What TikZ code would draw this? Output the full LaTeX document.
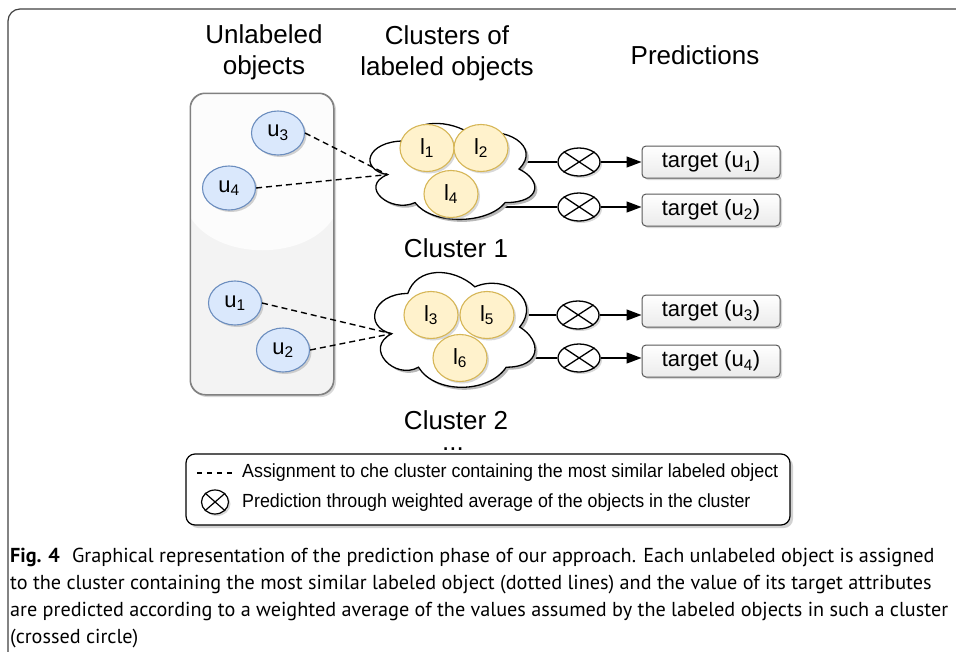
\documentclass[tikz,border=0pt]{standalone}
\usepackage{fontspec}
\setmainfont{Liberation Sans}
\newfontfamily\capfont{PT Sans}
\usetikzlibrary{shapes.geometric,shadows,arrows.meta}
\definecolor{ublue}{HTML}{DAE8FC}
\definecolor{ubord}{HTML}{6C8EBF}
\definecolor{lyel}{HTML}{FFF2CC}
\definecolor{lbord}{HTML}{D6B656}
\definecolor{boxgray}{HTML}{F3F3F3}
\definecolor{boxhi}{HTML}{FCFCFC}
\newcommand{\sbs}[1]{\textsubscript{#1}}
\newcommand{\cloudpath}{(0.25,0.25) .. controls (0.05,0.25) and (0,0.5) .. (0.16,0.55) .. controls (0,0.66) and (0.18,0.9) .. (0.31,0.8) .. controls (0.4,1) and (0.7,1) .. (0.8,0.8) .. controls (1,0.8) and (1,0.6) .. (0.875,0.5) .. controls (1,0.3) and (0.8,0.1) .. (0.625,0.2) .. controls (0.5,0.05) and (0.3,0.05) .. (0.25,0.25) -- cycle}
\newcommand{\drawiocloud}[5]{%
  \begin{scope}[shift={(#1+2.5,#2+2.5)}, x=#3pt, y=-#4pt]
    \fill[black!28] \cloudpath;
  \end{scope}
  \begin{scope}[shift={(#1,#2)}, x=#3pt, y=-#4pt]
    \draw[line width=1.3pt, fill=white] \cloudpath;
    \coordinate (#5in) at (0.16,0.55);
  \end{scope}}
\tikzset{
  uobj/.style={ellipse, draw=ubord, fill=ublue, line width=1.1pt, minimum width=53pt, minimum height=44pt, inner sep=0pt, font=\fontsize{22}{22}\selectfont, drop shadow={shadow xshift=2pt, shadow yshift=-2pt, fill=black!35}},
  lobj/.style={ellipse, draw=lbord, fill=lyel, line width=1.1pt, minimum width=54pt, minimum height=47pt, inner sep=0pt, font=\fontsize{22}{22}\selectfont, drop shadow={shadow xshift=2pt, shadow yshift=-2pt, fill=black!30}},
  xcirc/.style={ellipse, draw, line width=1.3pt, fill=white, minimum width=42pt, minimum height=28pt, inner sep=0pt, drop shadow={shadow xshift=2pt, shadow yshift=-2pt, fill=black!30},
     append after command={[every path/.style={}] (\tikzlastnode.33.7) edge[line width=1.3pt] (\tikzlastnode.213.7) (\tikzlastnode.146.3) edge[line width=1.3pt] (\tikzlastnode.-33.7)}},
  target/.style={rectangle, rounded corners=4pt, draw=black!65, line width=1pt, top color=white, bottom color=black!8, minimum width=138pt, minimum height=32pt, inner sep=0pt, font=\fontsize{22}{22}\selectfont, drop shadow={shadow xshift=2pt, shadow yshift=-2pt, fill=black!30}},
  title/.style={font=\fontsize{26}{31}\selectfont, align=center},
  clabel/.style={font=\fontsize{26}{26}\selectfont, inner sep=0pt},
  dline/.style={dashed, dash pattern=on 6pt off 4pt, line width=1.4pt},
  sline/.style={line width=1.3pt},
  arr/.style={line width=1.3pt, -{Triangle[length=15pt, width=11pt]}},
}
\begin{document}
\begin{tikzpicture}[x=1pt, y=-1pt]
\useasboundingbox (0,0) rectangle (956,651);
% outer frame
\draw[line width=1.2pt, black!75, rounded corners=12pt] (8,660) -- (8,9) -- (970,9);
% titles
\node[title] (t1) at (264,52) {Unlabeled\\objects};
\node[title] (t2) at (447,53) {Clusters of\\labeled objects};
\node[title] (t3) at (695,55) {Predictions};
% unlabeled container
\node[draw=black!50, line width=1pt, rounded corners=15pt, fill=boxgray, minimum width=144pt, minimum height=302pt, drop shadow={shadow xshift=2pt, shadow yshift=-2pt, fill=black!30}] (ubox) at (262,244) {};
\begin{scope}
  \clip[rounded corners=15pt] (190.5,93.5) rectangle (333.5,394.5);
  \fill[boxhi] (189,92) -- (189,215) .. controls (215,262) and (310,262) .. (335,215) -- (335,92) -- cycle;
\end{scope}
\draw[black!50, line width=1pt, rounded corners=15pt] (190.5,93.5) rectangle (333.5,394.5);
% crossed circles
\node[xcirc] (x1) at (579,162) {};
\node[xcirc] (x2) at (579,207) {};
\node[xcirc] (x3) at (578,315) {};
\node[xcirc] (x4) at (579,358) {};
% cluster centres and connectors (behind clouds)
\coordinate (c1) at (450,170);
\coordinate (c2) at (455,330);
\draw[sline] (c1 |- x1) -- (x1.west);
\draw[sline] (c1 |- x2) -- (x2.west);
\draw[sline] (c2 |- x3) -- (x3.west);
\draw[sline] (c2 |- x4) -- (x4.west);
% clouds
\drawiocloud{358}{113}{184}{112}{c1}
\drawiocloud{363}{260}{179}{134}{c2}
% labeled objects
\node[lobj] (l1) at (427,148) {l\sbs{1}};
\node[lobj] (l2) at (481,148) {l\sbs{2}};
\node[lobj] (l4) at (451,194) {l\sbs{4}};
\node[lobj] (l3) at (431,315) {l\sbs{3}};
\node[lobj] (l5) at (487,315) {l\sbs{5}};
\node[lobj] (l6) at (460,358) {l\sbs{6}};
% unlabeled objects
\node[uobj] (u3) at (278,133) {u\sbs{3}};
\node[uobj] (u4) at (229,188) {u\sbs{4}};
\node[uobj] (u1) at (235,303) {u\sbs{1}};
\node[uobj] (u2) at (283,350) {u\sbs{2}};
% assignments
\draw[dline] (u3.east) -- (c1in);
\draw[dline] (u4.east) -- (c1in);
\draw[dline] (u1.east) -- (c2in);
\draw[dline] (u2.east) -- (c2in);
% targets
\node[target] (tg1) at (711,162) {target (u\sbs{1})};
\node[target] (tg2) at (711,210) {target (u\sbs{2})};
\node[target] (tg3) at (711,311) {target (u\sbs{3})};
\node[target] (tg4) at (711,361) {target (u\sbs{4})};
\draw[arr] (x1.east) -- (x1.east -| tg1.west);
\draw[arr] (x2.east) -- (x2.east -| tg2.west);
\draw[arr] (x3.east) -- (x3.east -| tg3.west);
\draw[arr] (x4.east) -- (x4.east -| tg4.west);
% cluster labels
\node[clabel] (cl1) at (456,248) {Cluster 1};
\node[clabel] (cl2) at (456,420) {Cluster 2};
\node[clabel, anchor=base] (dots) at (453,450) {...};
% legend
\node[draw=black, line width=1.2pt, rounded corners=9pt, fill=white, minimum width=604pt, minimum height=71pt, drop shadow={shadow xshift=3pt, shadow yshift=-3pt, fill=black!35}] (leg) at (488,489.5) {};
\coordinate (ld1) at (197,473);
\coordinate (ld2) at (233,473);
\draw[line width=1.1pt, dash pattern=on 5pt off 5pt] (ld1) -- (ld2);
\node[ellipse, draw, line width=1.2pt, fill=white, minimum width=27pt, minimum height=24pt, inner sep=0pt, drop shadow={shadow xshift=2pt, shadow yshift=-2pt, fill=black!30},
  append after command={[every path/.style={}] (\tikzlastnode.41.6) edge[line width=1.2pt] (\tikzlastnode.221.6) (\tikzlastnode.138.4) edge[line width=1.2pt] (\tikzlastnode.-41.6)}] (lx) at (215,502) {};
\node[anchor=west, font=\fontsize{19}{19}\selectfont, inner sep=0pt, xscale=0.94] (lt1) at (242,473) {Assignment to che cluster containing the most similar labeled object};
\node[anchor=west, font=\fontsize{19}{19}\selectfont, inner sep=0pt, xscale=0.94] (lt2) at (242,503) {Prediction through weighted average of the objects in the cluster};
% caption
\node[anchor=north west, inner sep=0pt, align=left, font=\capfont\fontsize{20.2}{27}\selectfont] (cap) at (10,548) {\textbf{Fig. 4}\hspace{0.6em}Graphical representation of the prediction phase of our approach. Each unlabeled object is assigned\\to the cluster containing the most similar labeled object (dotted lines) and the value of its target attributes\\are predicted according to a weighted average of the values assumed by the labeled objects in such a cluster\\(crossed circle)};
\end{tikzpicture}
\end{document}
